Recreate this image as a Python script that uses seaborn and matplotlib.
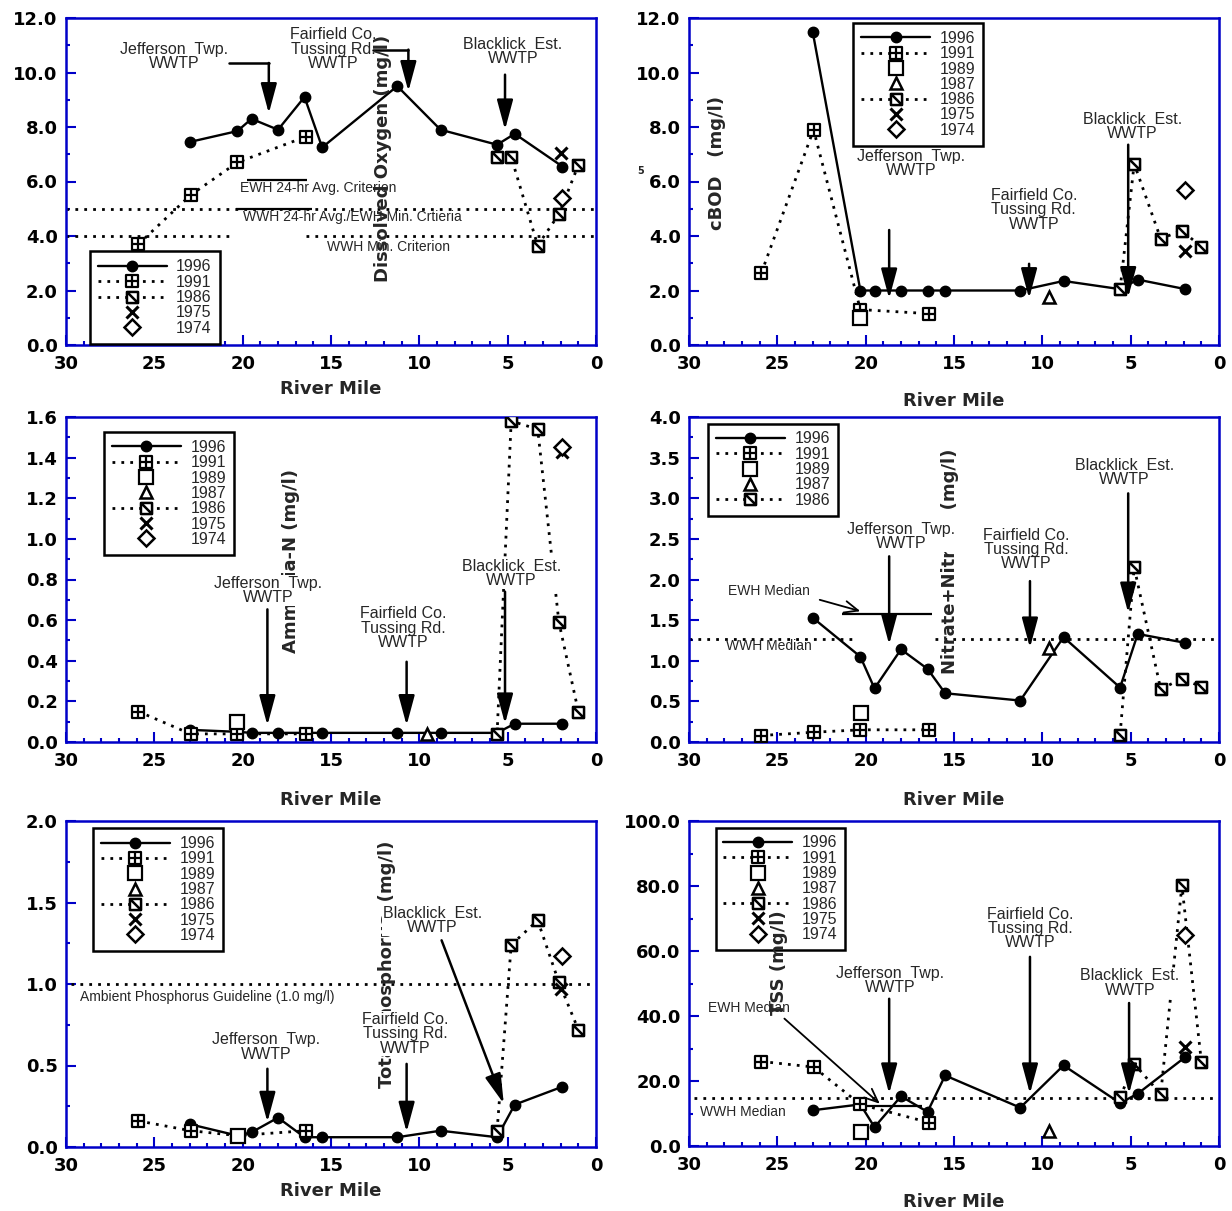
import matplotlib
matplotlib.use("Agg")
import numpy as np
import matplotlib.pyplot as plt
from matplotlib.path import Path
from matplotlib.lines import Line2D
from matplotlib.ticker import FormatStrFormatter
import seaborn as sns

sns.set_style("ticks")
plt.rcParams["font.family"] = ["Liberation Sans", "DejaVu Sans"]

# --------------------------------------------------------------
# Data (river mile, concentration)
# --------------------------------------------------------------
mile_1996 = [23.0, 20.3, 19.5, 18.0, 16.5, 15.5, 11.25, 8.8, 5.6, 4.6, 1.9]
mile_1991 = [25.9, 22.95, 20.3, 16.4]
mile_1986 = [5.6, 4.8, 3.3, 2.1, 1.0]

# dissolved oxygen
do_1996 = [7.45, 7.85, 8.3, 7.9, 9.1, 7.25, 9.5, 7.9, 7.35, 7.75, 6.55]
do_1991 = [3.7, 5.5, 6.7, 7.65]
do_1986 = [6.9, 6.9, 3.65, 4.8, 6.6]
do_1975 = ([2.0], [7.05])
do_1974 = ([1.9], [5.4])
do_ewh_avg = 6.05
do_wwh_avg = 5.0
do_wwh_min = 4.0

# cBOD5
bod_1996 = [11.5, 2.0, 2.0, 2.0, 2.0, 2.0, 2.0, 2.35, 2.05, 2.4, 2.05]
bod_1991 = [2.65, 7.9, 1.3, 1.15]
bod_1989 = ([20.3], [1.0])
bod_1987 = ([9.6], [1.75])
bod_1986 = [2.05, 6.65, 3.9, 4.2, 3.6]
bod_1975 = ([1.95], [3.45])
bod_1974 = ([1.9], [5.7])

# ammonia-N
nh3_1996 = [0.06, 0.05, 0.045, 0.045, 0.045, 0.045, 0.045, 0.045, 0.045, 0.09, 0.09]
nh3_1991 = [0.15, 0.04, 0.04, 0.04]
nh3_1989 = ([20.3], [0.1])
nh3_1987 = ([9.55], [0.04])
nh3_1986 = [0.04, 1.58, 1.54, 0.59, 0.15]
nh3_1975 = ([1.9], [1.43])
nh3_1974 = ([1.9], [1.45])

# nitrate+nitrite-N
no3_1996 = [1.53, 1.05, 0.66, 1.14, 0.9, 0.6, 0.51, 1.29, 0.67, 1.33, 1.22]
no3_1991 = [0.08, 0.12, 0.15, 0.15]
no3_1989 = ([20.25], [0.36])
no3_1987 = ([9.6], [1.16])
no3_1986 = [0.09, 2.15, 0.65, 0.78, 0.68]
no3_wwh_median = 1.27
no3_ewh_median = 1.57

# total phosphorus
tp_1996 = [0.14, 0.07, 0.09, 0.18, 0.06, 0.06, 0.06, 0.1, 0.06, 0.26, 0.37]
tp_1991 = [0.16, 0.1, 0.07, 0.1]
tp_1989 = ([20.25], [0.07])
tp_1986 = [0.1, 1.24, 1.39, 1.01, 0.72]
tp_1975 = ([2.0], [0.97])
tp_1974 = ([1.9], [1.17])
tp_guideline = 1.0

# total suspended solids
tss_1996 = [11.0, 12.8, 5.8, 15.3, 10.5, 21.7, 11.8, 24.8, 13.2, 16.1, 27.4]
tss_1991 = [26.0, 24.3, 12.8, 7.2]
tss_1989 = ([20.25], [4.3])
tss_1987 = ([9.6], [4.5])
tss_1986 = [15.0, 25.3, 15.9, 80.2, 26.0]
tss_1975 = ([1.95], [30.5])
tss_1974 = ([1.9], [64.8])
tss_wwh_median = 14.8
tss_ewh_median = 12.3

# --------------------------------------------------------------
# Marker / line styles per survey year
# --------------------------------------------------------------
M, L, C = Path.MOVETO, Path.LINETO, Path.CLOSEPOLY
box = [(-1, -1), (1, -1), (1, 1), (-1, 1), (-1, -1)]
box_codes = [M, L, L, L, C]
crossed_box = Path(box + [(0, -1), (0, 1), (-1, 0), (1, 0)], box_codes + [M, L, M, L])
slashed_box = Path(box + [(-1, 1), (1, -1)], box_codes + [M, L])

dots = (0, (1, 2.2))
year_style = {
    "1996": dict(marker="o", markersize=7.5, markerfacecolor="black", linestyle="-", linewidth=1.7, markeredgewidth=1),
    "1991": dict(marker=crossed_box, markersize=8, markerfacecolor="white", linestyle=dots, linewidth=2, markeredgewidth=1.6),
    "1989": dict(marker="s", markersize=10, markerfacecolor="white", linestyle="none", markeredgewidth=1.6),
    "1987": dict(marker="^", markersize=8, markerfacecolor="white", linestyle="none", markeredgewidth=1.8),
    "1986": dict(marker=slashed_box, markersize=8, markerfacecolor="white", linestyle=dots, linewidth=2, markeredgewidth=1.8),
    "1975": dict(marker="x", markersize=8, markerfacecolor="black", linestyle="none", markeredgewidth=2.2),
    "1974": dict(marker="D", markersize=8, markerfacecolor="white", linestyle="none", markeredgewidth=1.8),
}
BLUE = "#0000c8"
BOLD = ["DejaVu Sans"]


def plot_year(ax, year, miles, vals):
    sns.lineplot(x=miles, y=vals, ax=ax, estimator=None, sort=False, color="black",
                 markeredgecolor="black", zorder=3, **year_style[year])


def add_legend(ax, years, anchor):
    handles = [Line2D([], [], color="black", markeredgecolor="black", **year_style[y]) for y in years]
    leg = ax.legend(handles, years, loc="upper left", bbox_to_anchor=anchor, borderaxespad=0,
                    frameon=True, fancybox=False, edgecolor="black", framealpha=1, fontsize=11.5,
                    handlelength=4.3, handletextpad=0.6, labelspacing=0.02, borderpad=0.5,
                    numpoints=1)
    leg.get_frame().set_linewidth(1.8)
    leg.set_zorder(5)


def style_axes(ax, ymax, ystep, yminor, fmt, labelpad):
    ax.set_xlim(30, 0)
    ax.set_ylim(0, ymax)
    ax.set_xticks(np.arange(0, 31, 5))
    ax.set_xticks(np.arange(0, 31, 1), minor=True)
    ax.set_yticks(np.arange(0, ymax + ystep / 2, ystep))
    ax.set_yticks(np.arange(0, ymax + yminor / 2, yminor), minor=True)
    ax.yaxis.set_major_formatter(FormatStrFormatter(fmt))
    ax.xaxis.set_major_formatter(FormatStrFormatter("%d"))
    for s in ax.spines.values():
        s.set_visible(True)
        s.set_color(BLUE)
        s.set_linewidth(1.8)
    ax.tick_params(which="both", direction="in", color=BLUE, labelcolor="black", top=False, right=False)
    ax.tick_params(which="major", length=7, width=1.5, labelsize=13)
    ax.tick_params(axis="x", which="major", pad=7)
    ax.tick_params(axis="y", which="major", pad=6)
    ax.tick_params(which="minor", length=3, width=1.5)
    for lab in ax.get_xticklabels() + ax.get_yticklabels():
        lab.set_fontweight("bold")
        lab.set_family(BOLD)
    ax.set_xlabel("River Mile", fontsize=13, fontweight="bold", family=BOLD, labelpad=labelpad)
    ax.set_ylabel("")


def ylab(ax, x, y, s, z):
    ax.text(x, y, s, transform=ax.transAxes, rotation=90, ha="center", va="center",
            fontsize=13, fontweight="bold", family=BOLD, zorder=z)


def label(ax, x, y, s, size=11.5):
    ax.text(x, y, s, ha="center", va="center", fontsize=size, linespacing=0.95, zorder=4,
            bbox=dict(facecolor="white", edgecolor="none", pad=0.5))


def arrow(ax, start, end):
    ax.annotate("", xy=end, xytext=start, zorder=4.5,
                arrowprops=dict(arrowstyle="-|>,head_length=1.3,head_width=0.35", color="black",
                                lw=1.8, shrinkA=0, shrinkB=0, mutation_scale=14))


def open_arrow(ax, start, end):
    ax.annotate("", xy=end, xytext=start, zorder=4.5,
                arrowprops=dict(arrowstyle="->,head_length=0.7,head_width=0.3", color="black",
                                lw=1.3, shrinkA=0, shrinkB=0, mutation_scale=14))


def note(ax, x, y, s):
    ax.text(x, y, s, ha="left", va="center", fontsize=10, zorder=2)


fig = plt.figure(figsize=(12.32, 12.11), dpi=100)
W, H = 1232, 1211


def make_axes(left, top, right, bottom):
    return fig.add_axes([left / W, 1 - bottom / H, (right - left) / W, (bottom - top) / H])


ax1 = make_axes(66, 18, 596, 345)
ax2 = make_axes(689, 18, 1219, 345)
ax3 = make_axes(66, 417, 596, 742)
ax4 = make_axes(689, 417, 1219, 742)
ax5 = make_axes(66, 821, 596, 1147)
ax6 = make_axes(689, 821, 1219, 1146)

# ---------------- Dissolved oxygen ----------------
ax = ax1
ax.hlines(do_wwh_avg, 30, 0, colors="black", linestyles=dots, lw=2, zorder=2)
ax.hlines(do_wwh_min, 30, 20.6, colors="black", linestyles=dots, lw=2, zorder=2)
ax.hlines(do_wwh_min, 16.4, 0, colors="black", linestyles=dots, lw=2, zorder=2)
ax.hlines(do_ewh_avg, 19.76, 16.34, colors="black", lw=1.6, zorder=2)
ax.hlines(do_wwh_avg, 20.4, 16.1, colors="black", lw=1.6, zorder=2)
plot_year(ax, "1996", mile_1996, do_1996)
plot_year(ax, "1991", mile_1991, do_1991)
plot_year(ax, "1986", mile_1986, do_1986)
plot_year(ax, "1975", *do_1975)
plot_year(ax, "1974", *do_1974)
note(ax, 20.13, 5.75, "EWH 24-hr Avg. Criterion")
note(ax, 19.97, 4.69, "WWH 24-hr Avg./EWH Min. Crtieria")
note(ax, 15.24, 3.59, "WWH Min. Criterion")
label(ax, 23.9, 10.58, "Jefferson  Twp.\nWWTP")
ax.plot([20.77, 18.52], [10.35, 10.35], color="black", lw=1.8, zorder=4.5)
arrow(ax, (18.52, 10.35), (18.52, 8.5))
label(ax, 14.87, 10.86, "Fairfield Co.\nTussing Rd.\nWWTP")
ax.plot([12.6, 10.62], [10.84, 10.84], color="black", lw=1.8, zorder=4.5)
arrow(ax, (10.62, 10.84), (10.62, 9.31))
label(ax, 4.71, 10.78, "Blacklick  Est.\nWWTP")
arrow(ax, (5.15, 9.92), (5.15, 7.9))
ylab(ax, 0.598, 0.57, "Dissolved Oxygen (mg/l)", 4.8)
add_legend(ax, ["1996", "1991", "1986", "1975", "1974"], (0.045, 0.286))
style_axes(ax, 12, 2, 1, "%.1f", 5)

# ---------------- cBOD5 ----------------
ax = ax2
plot_year(ax, "1996", mile_1996, bod_1996)
plot_year(ax, "1991", mile_1991, bod_1991)
plot_year(ax, "1989", *bod_1989)
plot_year(ax, "1987", *bod_1987)
plot_year(ax, "1986", mile_1986, bod_1986)
plot_year(ax, "1975", *bod_1975)
plot_year(ax, "1974", *bod_1974)
label(ax, 17.43, 6.67, "Jefferson  Twp.\nWWTP")
arrow(ax, (18.67, 4.22), (18.67, 1.7))
label(ax, 10.48, 4.96, "Fairfield Co.\nTussing Rd.\nWWTP")
arrow(ax, (10.75, 2.98), (10.75, 1.71))
label(ax, 4.91, 8.02, "Blacklick  Est.\nWWTP")
arrow(ax, (5.14, 7.35), (5.14, 1.75))
ylab(ax, 0.053, 0.557, "cBOD   (mg/l)", 2)
ax.text(-0.092, 0.532, "5", transform=ax.transAxes, ha="center", va="center", fontsize=7,
        fontweight="bold", family=BOLD)
add_legend(ax, ["1996", "1991", "1989", "1987", "1986", "1975", "1974"], (0.31, 0.985))
style_axes(ax, 12, 2, 1, "%.1f", 14)

# ---------------- Ammonia-N ----------------
ax = ax3
plot_year(ax, "1996", mile_1996, nh3_1996)
plot_year(ax, "1991", mile_1991, nh3_1991)
plot_year(ax, "1989", *nh3_1989)
plot_year(ax, "1987", *nh3_1987)
plot_year(ax, "1986", mile_1986, nh3_1986)
plot_year(ax, "1975", *nh3_1975)
plot_year(ax, "1974", *nh3_1974)
label(ax, 18.55, 0.745, "Jefferson  Twp.\nWWTP")
arrow(ax, (18.6, 0.653), (18.6, 0.082))
label(ax, 10.9, 0.56, "Fairfield Co.\nTussing Rd.\nWWTP")
arrow(ax, (10.72, 0.395), (10.72, 0.082))
label(ax, 4.78, 0.83, "Blacklick  Est.\nWWTP")
arrow(ax, (5.15, 0.74), (5.15, 0.09))
ylab(ax, 0.425, 0.557, "Ammonia-N (mg/l)", 2)
add_legend(ax, ["1996", "1991", "1989", "1987", "1986", "1975", "1974"], (0.072, 0.954))
style_axes(ax, 1.6, 0.2, 0.1, "%.1f", 15)

# ---------------- Nitrate+Nitrite-N ----------------
ax = ax4
ax.hlines(no3_wwh_median, 30, 20.6, colors="black", linestyles=dots, lw=2, zorder=2)
ax.hlines(no3_wwh_median, 16.1, 0, colors="black", linestyles=dots, lw=2, zorder=2)
ax.hlines(no3_ewh_median, 21.36, 16.27, colors="black", lw=1.6, zorder=2)
plot_year(ax, "1996", mile_1996, no3_1996)
plot_year(ax, "1991", mile_1991, no3_1991)
plot_year(ax, "1989", *no3_1989)
plot_year(ax, "1987", *no3_1987)
plot_year(ax, "1986", mile_1986, no3_1986)
note(ax, 27.8, 1.86, "EWH Median")
open_arrow(ax, (22.6, 1.75), (20.3, 1.61))
note(ax, 27.9, 1.18, "WWH Median")
label(ax, 18.0, 2.53, "Jefferson  Twp.\nWWTP")
arrow(ax, (18.67, 2.285), (18.67, 1.2))
label(ax, 10.93, 2.37, "Fairfield Co.\nTussing Rd.\nWWTP")
arrow(ax, (10.7, 1.98), (10.7, 1.16))
label(ax, 5.36, 3.32, "Blacklick  Est.\nWWTP")
arrow(ax, (5.14, 3.06), (5.14, 1.59))
ylab(ax, 0.492, 0.557, "Nitrate+Nitrite  (mg/l)", 2)
add_legend(ax, ["1996", "1991", "1989", "1987", "1986"], (0.036, 0.98))
style_axes(ax, 4, 0.5, 0.25, "%.1f", 15)

# ---------------- Total phosphorus ----------------
ax = ax5
ax.hlines(tp_guideline, 29.7, 0, colors="black", linestyles=dots, lw=2, zorder=2)
plot_year(ax, "1996", mile_1996, tp_1996)
plot_year(ax, "1991", mile_1991, tp_1991)
plot_year(ax, "1989", *tp_1989)
plot_year(ax, "1986", mile_1986, tp_1986)
plot_year(ax, "1975", *tp_1975)
plot_year(ax, "1974", *tp_1974)
note(ax, 29.18, 0.92, "Ambient Phosphorus Guideline (1.0 mg/l)")
label(ax, 18.66, 0.614, "Jefferson  Twp.\nWWTP")
arrow(ax, (18.6, 0.48), (18.6, 0.153))
label(ax, 10.77, 0.695, "Fairfield Co.\nTussing Rd.\nWWTP")
arrow(ax, (10.72, 0.51), (10.72, 0.092))
label(ax, 9.26, 1.39, "Blacklick  Est.\nWWTP")
arrow(ax, (8.74, 1.268), (5.22, 0.266))
ylab(ax, 0.606, 0.561, "Total Phosphorus  (mg/l)", 2)
add_legend(ax, ["1996", "1991", "1989", "1987", "1986", "1975", "1974"], (0.051, 0.978))
style_axes(ax, 2, 0.5, 0.25, "%.1f", 5)

# ---------------- TSS ----------------
ax = ax6
ax.hlines(tss_wwh_median, 29.7, 0, colors="black", linestyles=dots, lw=2, zorder=2)
ax.hlines(tss_ewh_median, 20.3, 16.8, colors="black", lw=1.6, zorder=2)
plot_year(ax, "1996", mile_1996, tss_1996)
plot_year(ax, "1991", mile_1991, tss_1991)
plot_year(ax, "1989", *tss_1989)
plot_year(ax, "1987", *tss_1987)
plot_year(ax, "1986", mile_1986, tss_1986)
plot_year(ax, "1975", *tss_1975)
plot_year(ax, "1974", *tss_1974)
note(ax, 28.9, 42.6, "EWH Median")
open_arrow(ax, (24.6, 39.2), (19.2, 13.0))
note(ax, 29.4, 10.5, "WWH Median")
label(ax, 18.6, 51, "Jefferson  Twp.\nWWTP")
arrow(ax, (18.67, 45.3), (18.67, 16.1))
label(ax, 10.7, 66.9, "Fairfield Co.\nTussing Rd.\nWWTP")
arrow(ax, (10.7, 58.2), (10.7, 16.1))
label(ax, 5.05, 50.2, "Blacklick  Est.\nWWTP")
arrow(ax, (5.09, 44), (5.09, 16.1))
ylab(ax, 0.17, 0.563, "TSS (mg/l)", 6)
add_legend(ax, ["1996", "1991", "1989", "1987", "1986", "1975", "1974"], (0.05, 0.98))
style_axes(ax, 100, 20, 10, "%.1f", 14)

fig.savefig("out.png", dpi=100)
